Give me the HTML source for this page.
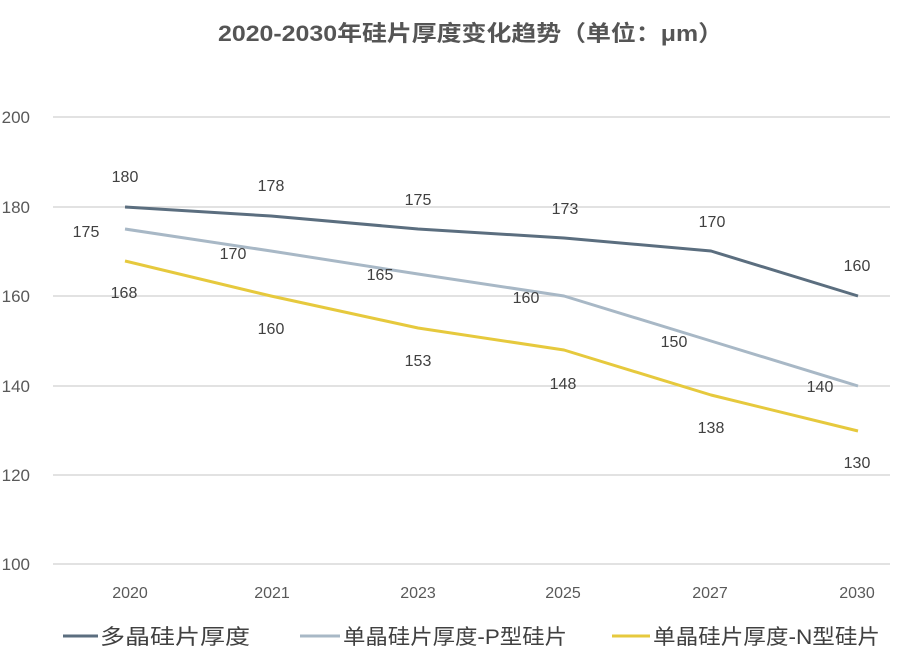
<!DOCTYPE html>
<html><head><meta charset="utf-8"><style>
body{margin:0;background:#fff}
svg text{font-family:"Liberation Sans","Noto Sans CJK SC",sans-serif}
</style></head><body>
<svg width="900" height="661" viewBox="0 0 900 661" xmlns="http://www.w3.org/2000/svg">
<rect width="900" height="661" fill="#fff"/>
<text x="218" y="41" font-size="22" font-weight="bold" fill="#555" textLength="505" lengthAdjust="spacingAndGlyphs">2020-2030年硅片厚度变化趋势（单位：μm）</text>
<g stroke="#d9d9d9" stroke-width="1.5">
<line x1="53" y1="117" x2="890" y2="117"/>
<line x1="53" y1="207" x2="890" y2="207"/>
<line x1="53" y1="296" x2="890" y2="296"/>
<line x1="53" y1="386" x2="890" y2="386"/>
<line x1="53" y1="475" x2="890" y2="475"/>
<line x1="53" y1="564" x2="890" y2="564"/>
</g>
<g font-size="17" fill="#595959" text-anchor="end">
<text x="30" y="123">200</text><text x="30" y="213">180</text><text x="30" y="302">160</text>
<text x="30" y="392">140</text><text x="30" y="481">120</text><text x="30" y="570">100</text>
</g>
<g font-size="16" fill="#595959" text-anchor="middle">
<text x="130" y="598">2020</text><text x="272" y="598">2021</text><text x="418" y="598">2023</text>
<text x="563" y="598">2025</text><text x="710" y="598">2027</text><text x="857" y="598">2030</text>
</g>
<g fill="none" stroke-width="3" stroke-linejoin="round">
<polyline stroke="#5b6e7f" points="125,207 271,216 418,229 564,238 711,251 858,296"/>
<polyline stroke="#a8b8c6" points="125,229 271,251 418,274 564,296 711,341 858,386"/>
<polyline stroke="#e6c93d" points="125,261 271,296 418,328 564,350 711,395 858,431"/>
</g>
<g font-size="16" fill="#404040" text-anchor="middle">
<text x="125" y="182">180</text><text x="271" y="191">178</text><text x="418" y="205">175</text>
<text x="565" y="214">173</text><text x="712" y="227">170</text><text x="857" y="271">160</text>
<text x="86" y="237">175</text><text x="233" y="259">170</text><text x="380" y="280">165</text>
<text x="526" y="303">160</text><text x="674" y="347">150</text><text x="820" y="392">140</text>
<text x="124" y="298">168</text><text x="271" y="334">160</text><text x="418" y="366">153</text>
<text x="563" y="389">148</text><text x="711" y="433">138</text><text x="857" y="468">130</text>
</g>
<g stroke-width="3">
<line x1="63" y1="636" x2="98" y2="636" stroke="#5b6e7f"/>
<line x1="300" y1="636" x2="340" y2="636" stroke="#a8b8c6"/>
<line x1="612" y1="636" x2="650" y2="636" stroke="#e6c93d"/>
</g>
<g font-size="21" fill="#404040">
<text x="100" y="644" textLength="150" lengthAdjust="spacingAndGlyphs">多晶硅片厚度</text>
<text x="343" y="644" textLength="224" lengthAdjust="spacingAndGlyphs">单晶硅片厚度-P型硅片</text>
<text x="653" y="644" textLength="227" lengthAdjust="spacingAndGlyphs">单晶硅片厚度-N型硅片</text>
</g>
</svg>
</body></html>
